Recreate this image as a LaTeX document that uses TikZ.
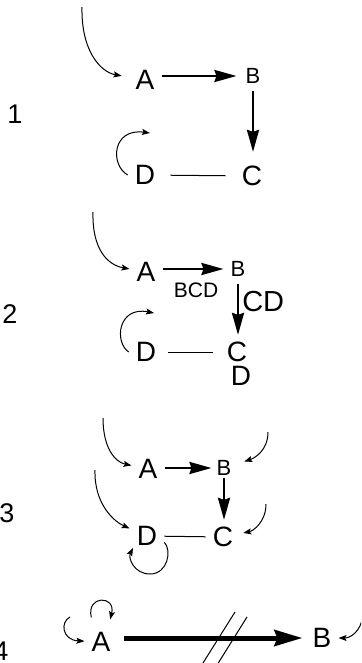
\documentclass[tikz,border=0pt]{standalone}
\usepackage{fontspec}
\setmainfont{Liberation Sans}
\usepackage{tikz}
\usetikzlibrary{arrows.meta, positioning, calc}
\tikzstyle{species} = [inner sep=7pt, font=\fontsize{28}{28}\selectfont]
\tikzstyle{minor} = [inner sep=7pt, font=\fontsize{22}{22}\selectfont]
\tikzstyle{tag} = [inner sep=1pt, font=\fontsize{21}{21}\selectfont]
\tikzstyle{panelno} = [inner sep=0pt, font=\fontsize{27}{27}\selectfont]
\tikzstyle{arrow} = [line width=2.5pt, -{Stealth[length=22pt, width=12pt, inset=2pt]}]
\tikzstyle{heavy} = [line width=5pt, -{Stealth[length=28pt, width=16pt, inset=3pt]}]
\tikzstyle{feed} = [line width=1pt, -{Stealth[length=8pt, width=6pt, inset=1.5pt]}]
\tikzstyle{bond} = [line width=1pt]

\begin{document}
\begin{tikzpicture}[x=1pt, y=-1pt]
    \useasboundingbox (0,0) rectangle (361,663);
    \clip (0,0) rectangle (361,663);

    % Panel 1
    \node[panelno] (n1) at (15,114) {1};
    \node[species] (A1) at (145,80) {A};
    \node[minor] (B1) at (253,76) {B};
    \node[species] (C1) at (252,176) {C};
    \node[species] (D1) at (145,175) {D};
    \coordinate (s1) at (82,7);
    \coordinate (r1) at (150,133);

    \draw[feed, shorten >=7pt] (s1) .. controls (81,50) and (100,72) .. (A1);
    \draw[arrow, shorten >=2pt] (A1.east |- B1) -- (B1.west);
    \draw[arrow, shorten >=7pt] (B1.south) -- (B1.south |- C1.north);
    \draw[bond, shorten <=8pt, shorten >=9pt] (D1) -- (C1);
    \draw[feed] (D1.west) .. controls (110,165) and (112,128) .. (r1);

    % Panel 2
    \node[panelno] (n2) at (10,314) {2};
    \node[species] (A2) at (146,272) {A};
    \node[minor] (B2) at (238,269) {B};
    \node[species] (C2) at (237,352) {C};
    \node[species] (D2) at (146,352) {D};
    \node[species, inner sep=0pt] (E2) at (241,376) {D};
    \coordinate (s2) at (93,212);
    \coordinate (r2) at (154,313);

    \draw[feed] (s2) .. controls (92,250) and (108,265) .. (A2);
    \draw[arrow] (A2.east |- B2) -- node[tag, below=12pt, pos=0.55] {BCD} (B2.west);
    \draw[arrow] (B2.south) -- node[tag, right=2pt, pos=0.35, font=\fontsize{29}{29}\selectfont] {CD} (B2.south |- C2.north);
    \draw[bond, shorten <=5pt, shorten >=7pt] (D2) -- (C2);
    \draw[feed] (D2.west) .. controls (114,342) and (118,306) .. (r2);

    % Panel 3
    \node[panelno] (n3) at (7,513) {3};
    \node[species] (A3) at (148,469) {A};
    \node[minor] (B3) at (224,468) {B};
    \node[species] (C3) at (223,537) {C};
    \node[species] (D3) at (147,536) {D};
    \coordinate (s3a) at (103,418);
    \coordinate (s3b) at (268,432);
    \coordinate (s3c) at (266,504);
    \coordinate (s3d) at (95,470);
    \coordinate (r3) at (133,548);

    \draw[feed] (s3a) .. controls (103,448) and (115,462) .. (A3);
    \draw[feed, shorten >=6pt] (s3b) .. controls (268,450) and (255,458) .. (B3);
    \draw[feed, shorten >=3pt] (s3c) .. controls (266,522) and (253,531) .. (C3);
    \draw[feed] (s3d) .. controls (94,505) and (115,522) .. (D3);
    \draw[arrow, shorten >=-2pt] (A3.east |- B3) -- (B3.west);
    \draw[arrow, shorten <=-5pt] (B3.south) -- (B3.south |- C3.north);
    \draw[bond] (D3) -- (C3);
    \draw[feed] (D3.-20) .. controls (172,550) and (168,574) .. (150,574)
        .. controls (134,574) and (128,558) .. (r3);

    % Panel 4
    \node[panelno] (n4) at (1,651) {4};
    \node[species] (A4) at (101,642) {A};
    \node[species] (B4) at (322,638) {B};
    \coordinate (s4a) at (70,617);
    \coordinate (s4b) at (363,615);

    \draw[feed] (s4a) .. controls (60,622) and (62,640) .. (A4);
    \draw[feed, shorten <=8pt, shorten >=6pt] (A4.115) .. controls (86,595) and (116,595) .. (A4.65);
    \draw[feed] (s4b) .. controls (361,632) and (350,638) .. (B4);
    \draw[heavy, shorten <=6pt, shorten >=3pt] (A4.east |- B4) -- (B4.west);
    % cut marks
    \draw[bond] (203,663) -- (235,612);
    \draw[bond] (217,665) -- (247,617);
\end{tikzpicture}
\end{document}
